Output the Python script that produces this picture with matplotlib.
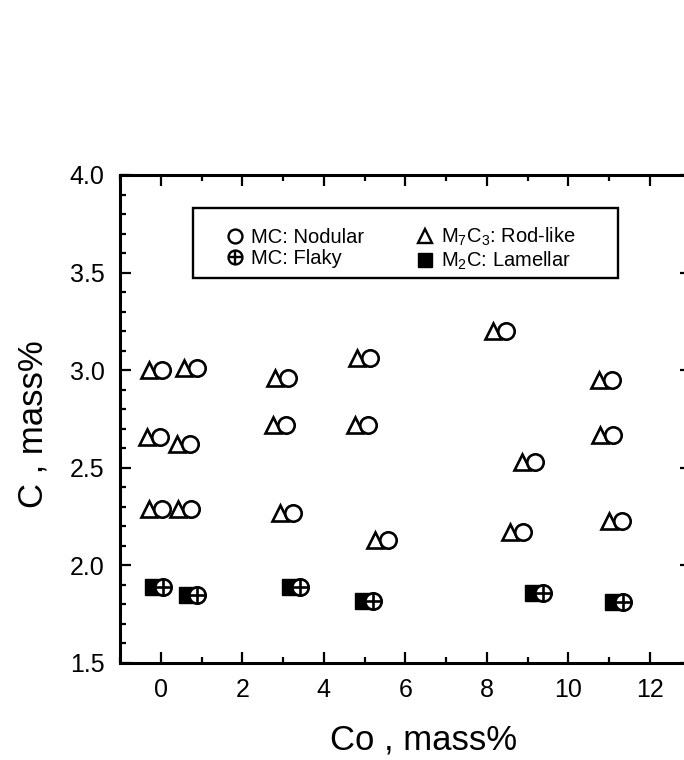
import matplotlib
matplotlib.use('Agg')
import matplotlib.pyplot as plt
import matplotlib.transforms as mtransforms
from matplotlib.lines import Line2D
from matplotlib.patches import Rectangle
from matplotlib.ticker import MultipleLocator, FormatStrFormatter

plt.rcParams['font.family'] = ['Liberation Sans', 'DejaVu Sans']
plt.rcParams['mathtext.default'] = 'regular'

# Alloys containing MC (nodular) together with M7C3 (rod-like)
nodular_co = [0.02, 0.88, 3.12, 5.13, 8.48, 11.06,
              -0.02, 0.71, 3.08, 5.09, 9.18, 11.10,
              0.02, 0.75, 3.25, 5.58, 8.89, 11.31]
nodular_c = [3.00, 3.01, 2.96, 3.06, 3.20, 2.95,
             2.66, 2.62, 2.72, 2.72, 2.53, 2.67,
             2.29, 2.29, 2.27, 2.13, 2.17, 2.23]

# Alloys containing MC (flaky) together with M2C (lamellar)
flaky_co = [0.06, 0.88, 3.41, 5.21, 9.38, 11.35]
flaky_c = [1.89, 1.85, 1.89, 1.82, 1.86, 1.81]

legend_labels = ['MC: Nodular', 'MC: Flaky',
                 r'M$_7$C$_3$: Rod-like', r'M$_2$C: Lamellar']
x_label = 'Co , mass%'
y_label = 'C , mass%'

W, H = 684, 760
fig = plt.figure(figsize=(W / 100, H / 100), dpi=100)
ax = fig.add_axes([120 / W, 97 / H, 570.75 / W, 488 / H])
ax.set_xlim(-1, 13)
ax.set_ylim(1.5, 4.0)

ms = 11.8
mew = 1.9
tri_off = mtransforms.offset_copy(ax.transData, fig=fig, x=-13, y=0, units='dots')
sq_off = mtransforms.offset_copy(ax.transData, fig=fig, x=-10, y=0, units='dots')

ax.plot(nodular_co, nodular_c, ls='none', marker='^', ms=ms, mfc='white',
        mec='black', mew=mew, transform=tri_off, zorder=3)
ax.plot(nodular_co, nodular_c, ls='none', marker='o', ms=ms, mfc='white',
        mec='black', mew=mew, zorder=4)
ax.plot(flaky_co, flaky_c, ls='none', marker='s', ms=ms * 0.95, mfc='black',
        mec='black', mew=1, transform=sq_off, zorder=3)
ax.plot(flaky_co, flaky_c, ls='none', marker='o', ms=ms, mfc='white',
        mec='black', mew=mew, zorder=4)
ax.plot(flaky_co, flaky_c, ls='none', marker='+', ms=ms, mec='black',
        mew=mew, zorder=5)

ax.xaxis.set_major_locator(MultipleLocator(2))
ax.xaxis.set_minor_locator(MultipleLocator(1))
ax.yaxis.set_major_locator(MultipleLocator(0.5))
ax.yaxis.set_minor_locator(MultipleLocator(0.1))
ax.yaxis.set_major_formatter(FormatStrFormatter('%.1f'))
ax.tick_params(which='both', direction='in', top=True, right=True,
               color='black', width=1.6)
ax.tick_params(which='major', length=8, labelsize=18, pad=11)
ax.tick_params(which='minor', length=4)
for s in ax.spines.values():
    s.set_linewidth(2.2)

ax.set_xlabel(x_label, fontsize=25, va='center')
ax.xaxis.set_label_coords(0.531, -0.158)
ax.set_ylabel(y_label, fontsize=25, va='center')
ax.yaxis.set_label_coords(-0.152, 0.49)

lms = 10
h_nod = Line2D([], [], ls='none', marker='o', ms=lms, mfc='white', mec='black', mew=1.7)
h_fo = Line2D([], [], ls='none', marker='o', ms=lms, mfc='white', mec='black', mew=1.7)
h_fp = Line2D([], [], ls='none', marker='+', ms=lms, mec='black', mew=1.7)
h_rod = Line2D([], [], ls='none', marker='^', ms=lms, mfc='white', mec='black', mew=1.7)
h_lam = Line2D([], [], ls='none', marker='s', ms=lms, mfc='black', mec='black')

ax.legend([h_nod, (h_fo, h_fp), h_rod, h_lam], legend_labels, ncol=2,
          frameon=False, loc='center',
          bbox_to_anchor=(400 / W, 1 - 249 / H), bbox_transform=fig.transFigure,
          fontsize=14.5, handlelength=1.0, handletextpad=0.3,
          columnspacing=2.5, labelspacing=0.1, borderpad=0)

ax.add_patch(Rectangle((193 / W, 1 - 278 / H), 425 / W, 70 / H,
                       transform=fig.transFigure, fill=False, lw=1.7,
                       ec='black', clip_on=False, zorder=6))

fig.savefig('out.png', dpi=100)
